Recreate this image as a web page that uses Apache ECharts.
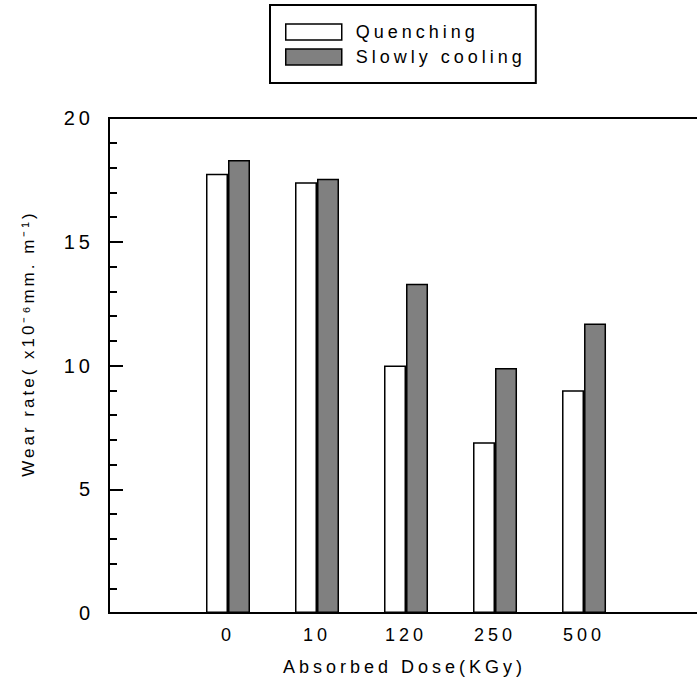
<!DOCTYPE html>
<html>
<head>
<meta charset="utf-8">
<script src="https://cdn.jsdelivr.net/npm/echarts@6/dist/echarts.min.js"></script>
<style>
  html, body { margin: 0; padding: 0; background: #fff; }
  #chart { width: 697px; height: 684px; }
  #chart text { letter-spacing: 4px; }
  #chart text[style*="17px"] { letter-spacing: 3px; }
</style>
</head>
<body>
<div id="chart"></div>
<script>
// ---- data ----
const doses = ['0', '10', '120', '250', '500'];
const quenching = [17.75, 17.4, 10.0, 6.9, 9.0];
const slowlyCooling = [18.3, 17.55, 13.3, 9.9, 11.7];
const seriesNames = ['Quenching', 'Slowly cooling'];
const yMin = 0, yMax = 20, yInterval = 5;
const xTitle = 'Absorbed Dose(KGy)';
const yTitle = 'Wear rate( x10\u207B\u2076mm. m\u207B\u00B9)';

const chart = echarts.init(document.getElementById('chart'), null, { renderer: 'svg' });
const font = 'Liberation Sans, Arial, sans-serif';
const idx = doses.map((d, i) => i);

chart.setOption({
  backgroundColor: '#ffffff',
  animation: false,
  textStyle: { fontFamily: font, color: '#000' },
  legend: {
    orient: 'vertical',
    left: 270,
    top: 5,
    padding: [18, 66, 17, 15],
    borderColor: '#000',
    borderWidth: 2,
    itemWidth: 56,
    itemHeight: 16,
    itemGap: 7,
    icon: 'rect',
    itemStyle: { borderColor: '#000', borderWidth: 1.5 },
    textStyle: { fontFamily: font, fontSize: 18, color: '#000', padding: [0, 0, 0, 9] },
    data: seriesNames
  },
  grid: {
    left: 109, top: 118, bottom: 71, right: -3,
    show: true, borderColor: '#000', borderWidth: 2,
    containLabel: false, outerBoundsMode: 'none'
  },
  xAxis: {
    type: 'value',
    min: -1.337,
    max: 5.303,
    splitLine: { show: false },
    axisTick: { show: false },
    axisLine: { show: true, onZero: false, lineStyle: { color: '#000', width: 2 } },
    axisLabel: {
      customValues: idx,
      formatter: v => doses[Math.round(v)] || '',
      fontSize: 18, color: '#000', fontFamily: font, margin: 13
    },
    name: xTitle,
    nameLocation: 'middle',
    nameGap: 45,
    nameTextStyle: { fontSize: 18, color: '#000', fontFamily: font }
  },
  yAxis: {
    type: 'value',
    min: yMin, max: yMax, interval: yInterval,
    splitLine: { show: false },
    axisLine: { show: true, onZero: false, lineStyle: { color: '#000', width: 2 } },
    axisTick: { show: true, inside: true, length: 14, lineStyle: { color: '#000', width: 2 } },
    minorTick: { show: true, splitNumber: 5, length: 8, lineStyle: { color: '#000', width: 2 } },
    axisLabel: { fontSize: 20, color: '#000', fontFamily: font, margin: 15 },
    name: yTitle,
    nameLocation: 'middle',
    nameGap: 72,
    nameRotate: 90,
    nameTextStyle: { fontSize: 17, color: '#000', fontFamily: font, padding: [0, 0, 0, 44] }
  },
  series: [
    {
      name: seriesNames[0],
      type: 'bar',
      barWidth: 22,
      barGap: '0%',
      itemStyle: { color: '#ffffff', borderColor: '#000', borderWidth: 1.5 },
      data: idx.map(i => [i, quenching[i]])
    },
    {
      name: seriesNames[1],
      type: 'bar',
      barWidth: 22,
      barGap: '0%',
      itemStyle: { color: '#808080', borderColor: '#000', borderWidth: 1.5 },
      data: idx.map(i => [i, slowlyCooling[i]])
    }
  ]
});
</script>
</body>
</html>
